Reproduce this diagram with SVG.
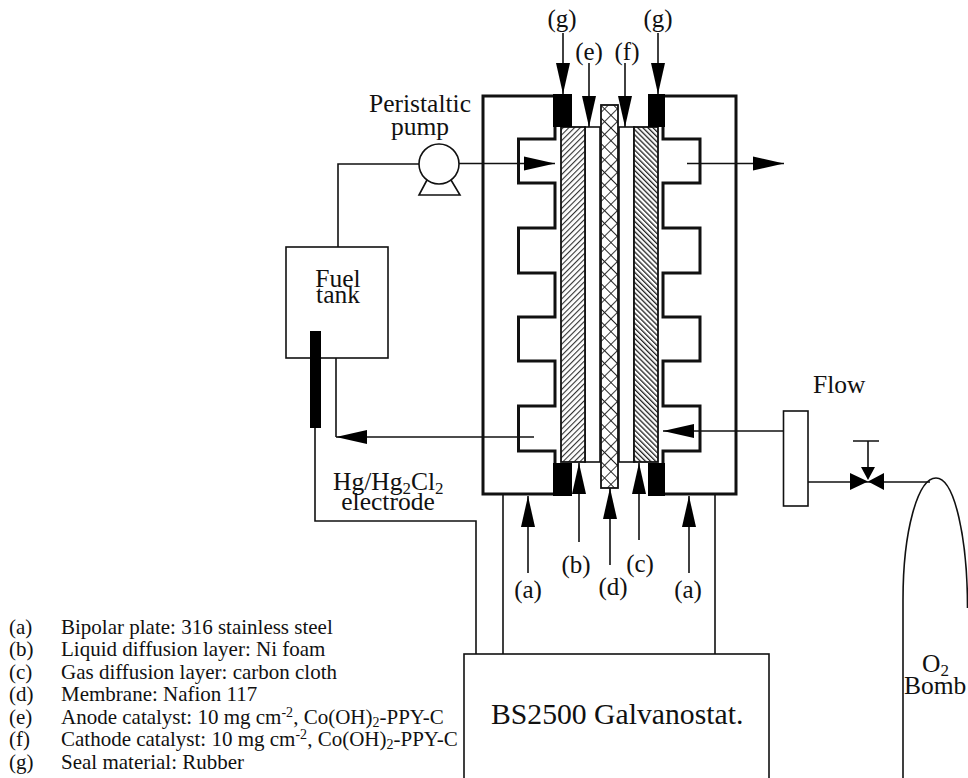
<svg xmlns="http://www.w3.org/2000/svg" width="968" height="778" viewBox="0 0 968 778">
<style>
text{font-family:"Liberation Serif","Times New Roman",serif;fill:#111}
.m{text-anchor:middle}
.l{font-size:21px}
.t{font-size:25.500px}
.n{font-size:25px}
.thin{fill:none;stroke:#111;stroke-width:1.6}
.thick{fill:none;stroke:#111;stroke-width:3}
.lay{stroke:#111;stroke-width:1.800}
.blk{fill:#000}
.white{fill:#fff;stroke:#111;stroke-width:1.6}
</style>
<defs>
<pattern id="hl" width="4" height="4" patternUnits="userSpaceOnUse" patternTransform="rotate(45)"><rect width="4" height="4" fill="#fff"/><rect width="1.100" height="4" fill="#333"/></pattern>
<pattern id="hr" width="3.600" height="3.600" patternUnits="userSpaceOnUse" patternTransform="rotate(-45)"><rect width="3.600" height="3.600" fill="#fff"/><rect width="1.300" height="3.600" fill="#222"/></pattern>
<pattern id="hx" width="9" height="9" patternUnits="userSpaceOnUse" patternTransform="rotate(45)"><rect width="9" height="9" fill="#fff"/><path d="M0 0H9M0 0V9" stroke="#222" stroke-width="1.800" fill="none"/></pattern>
<marker id="arr" markerUnits="userSpaceOnUse" markerWidth="32" markerHeight="15" refX="31" refY="7.500" orient="auto"><path d="M0 0.500L31 7.500L0 14.500Z" fill="#000"/></marker>
</defs>

<g id="connectors">
<path class="thin" d="M419 164H338V247"/>
<path class="thin" d="M459 163.500H555" marker-end="url(#arr)"/>
<path class="thin" d="M687 163.500H784" marker-end="url(#arr)"/>
<path class="thin" d="M783 431H663" marker-end="url(#arr)"/>
<path class="thin" d="M534 437H336" marker-end="url(#arr)"/>
<path class="thin" d="M336 358V437"/>
<path class="thin" d="M315 428V521H476V654"/>
<path class="thin" d="M503 494V654M715 494V654"/>
<path class="thin" d="M808 482H930"/>
<path class="thin" d="M563 33V94" marker-end="url(#arr)"/>
<path class="thin" d="M658 33V94" marker-end="url(#arr)"/>
<path class="thin" d="M589 63V127" marker-end="url(#arr)"/>
<path class="thin" d="M625 63V127" marker-end="url(#arr)"/>
<path class="thin" d="M528 573V496" marker-end="url(#arr)"/>
<path class="thin" d="M579 542V463" marker-end="url(#arr)"/>
<path class="thin" d="M610 565V488" marker-end="url(#arr)"/>
<path class="thin" d="M639 540V463" marker-end="url(#arr)"/>
<path class="thin" d="M689 573V496" marker-end="url(#arr)"/>
</g>

<g id="cell">
<path class="thick" d="M554 96H483V494H554"/>
<path class="thick" d="M555 127V139H518.500V183H555V228H518.500V273H555V317H518.500V361H555V406H518.500V451H555V463"/>
<path class="thick" d="M665 96H736V494H665"/>
<path class="thick" d="M663 127V139H700V183H663V228H700V273H663V317H700V361H663V406H700V451H663V463"/>
<rect class="white" x="585" y="127" width="15" height="335"/>
<rect class="white" x="619" y="127" width="15" height="335"/>
<rect class="lay" x="561" y="127" width="24" height="335" fill="url(#hl)"/>
<rect class="lay" x="634" y="127" width="24" height="335" fill="url(#hr)"/>
<rect class="lay" x="601" y="105" width="17" height="383" fill="url(#hx)"/>
<rect class="blk" x="553" y="94" width="19" height="33"/>
<rect class="blk" x="648" y="94" width="17" height="33"/>
<rect class="blk" x="553" y="463" width="19" height="33"/>
<rect class="blk" x="648" y="463" width="17" height="33"/>
</g>

<g id="pump">
<circle class="thin" cx="439" cy="164" r="20"/>
<path class="thin" d="M427 180L419 195H460L451 180"/>
<text class="t m" x="420" y="112">Peristaltic</text>
<text class="t m" x="420" y="135">pump</text>
</g>

<g id="fuel-tank">
<rect class="thin" x="286" y="247" width="102" height="111"/>
<text class="t m" x="338" y="287">Fuel</text>
<text class="t m" x="338" y="303">tank</text>
</g>

<g id="electrode">
<rect class="blk" x="310" y="331" width="11" height="97"/>
<text class="t" x="333" y="490">Hg/Hg<tspan font-size="17" dy="4">2</tspan><tspan dy="-4">Cl</tspan><tspan font-size="17" dy="4">2</tspan></text>
<text class="t m" x="388" y="510">electrode</text>
</g>

<g id="galvanostat">
<rect class="thin" x="464" y="654" width="305" height="140"/>
<text x="491" y="724" font-size="29.700">BS2500 Galvanostat.</text>
</g>

<g id="flow-meter">
<rect class="thin" x="783.500" y="411" width="24.500" height="95"/>
<text class="t" x="813" y="393">Flow</text>
</g>

<g id="valve">
<path class="thin" d="M853 441H879M868 441V470"/>
<path class="blk" d="M861 467H875L868 480Z"/>
<path class="blk" d="M850 473L868 481.500L850 490ZM884 473L868 481.500L884 490Z"/>
</g>

<g id="bomb">
<path class="thin" d="M903 778V600C903 530 918 478 936 478C955 478 967.500 540 967.500 608"/>
<text class="t" x="922" y="672">O<tspan font-size="17" dy="4">2</tspan></text>
<text class="t" x="904" y="694">Bomb</text>
</g>

<g id="labels">
<text class="n m" x="562" y="27">(g)</text>
<text class="n m" x="658" y="27">(g)</text>
<text class="n m" x="589" y="60">(e)</text>
<text class="n m" x="627" y="60">(f)</text>
<text class="n m" x="528" y="598">(a)</text>
<text class="n m" x="576" y="573">(b)</text>
<text class="n m" x="640" y="572">(c)</text>
<text class="n m" x="613" y="595">(d)</text>
<text class="n m" x="688" y="598">(a)</text>
</g>

<g id="legend">
<text class="l" x="9" y="634">(a)</text><text class="l" x="61" y="634">Bipolar plate: 316 stainless steel</text>
<text class="l" x="9" y="656">(b)</text><text class="l" x="61" y="656">Liquid diffusion layer: Ni foam</text>
<text class="l" x="9" y="679">(c)</text><text class="l" x="61" y="679">Gas diffusion layer: carbon cloth</text>
<text class="l" x="9" y="701">(d)</text><text class="l" x="61" y="701">Membrane: Nafion 117</text>
<text class="l" x="9" y="724">(e)</text><text class="l" x="61" y="724">Anode catalyst: 10 mg cm<tspan font-size="14" dy="-7">-2</tspan><tspan dy="7">, Co(OH)</tspan><tspan font-size="14" dy="3">2</tspan><tspan dy="-3">-PPY-C</tspan></text>
<text class="l" x="9" y="746">(f)</text><text class="l" x="61" y="746">Cathode catalyst: 10 mg cm<tspan font-size="14" dy="-7">-2</tspan><tspan dy="7">, Co(OH)</tspan><tspan font-size="14" dy="3">2</tspan><tspan dy="-3">-PPY-C</tspan></text>
<text class="l" x="9" y="769">(g)</text><text class="l" x="61" y="769">Seal material: Rubber</text>
</g>
</svg>
